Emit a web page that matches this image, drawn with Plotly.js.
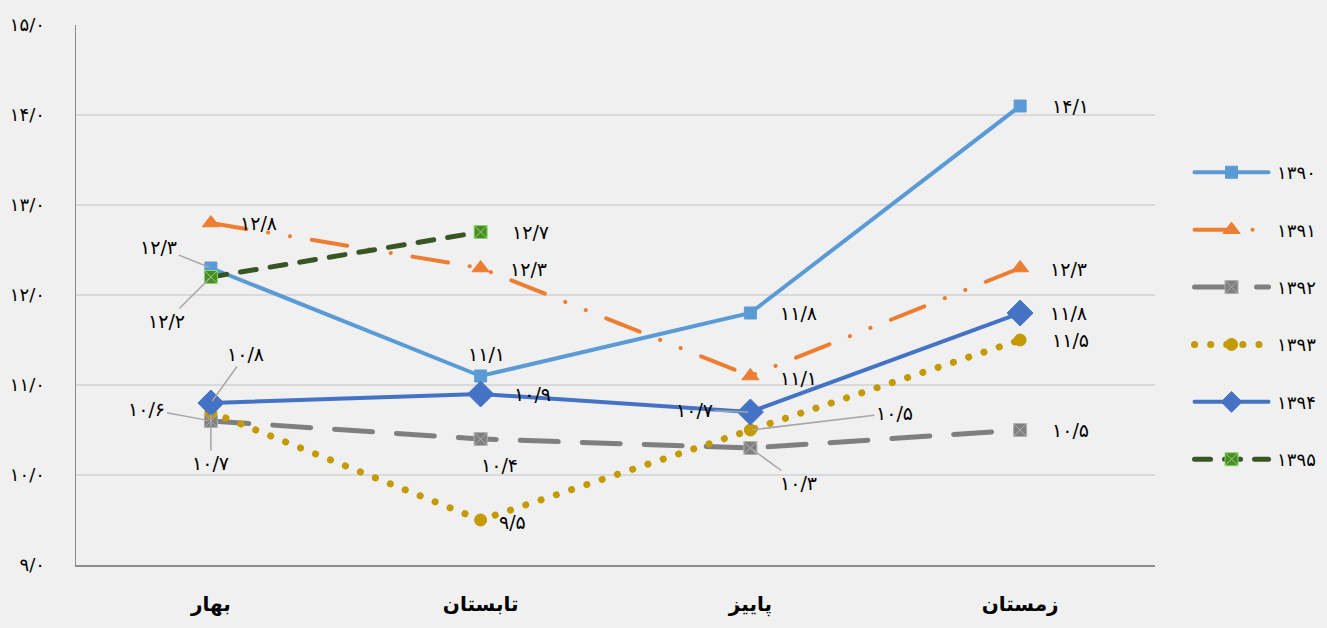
<!DOCTYPE html>
<html><head><meta charset="utf-8">
<script src="https://cdn.plot.ly/plotly-3.0.1.min.js"></script>
<style>
html,body{margin:0;padding:0;background:#f0f0f0;}
#chart{width:1327px;height:628px;}
.scatterlayer path.js-line{stroke-linecap:round;}
.legend path.js-line{stroke-linecap:round;}
</style></head>
<body><div id="chart"></div>
<script>
const categories = ['بهار','تابستان','پاییز','زمستان'];
const seriesNames = ['۱۳۹۰','۱۳۹۱','۱۳۹۲','۱۳۹۳','۱۳۹۴','۱۳۹۵'];
const s1390 = [12.3, 11.1, 11.8, 14.1];
const s1391 = [12.8, 12.3, 11.1, 12.3];
const s1392 = [10.6, 10.4, 10.3, 10.5];
const s1393 = [10.7, 9.5, 10.5, 11.5];
const s1394 = [10.8, 10.9, 10.7, 11.8];
const s1395 = [12.2, 12.7, null, null];
const yTicks = [9, 10, 11, 12, 13, 14, 15];

const faDigits = '۰۱۲۳۴۵۶۷۸۹';
function fa(v){ return v.toFixed(1).replace('.', '/').replace(/[0-9]/g, d => faDigits[+d]); }

const seriesValues = [s1390, s1391, s1392, s1393, s1394, s1395];
const styles = [
  {color:'#5b9bd5', width:4, dash:'solid', symbol:'square', msize:12, mcolor:'#5b9bd5', mline:'#5b9bd5'},
  {color:'#ed7d31', width:4, dash:'36px,22px,0.1px,22px,0.1px,22px', symbol:'triangle-up', msize:15, mcolor:'#ed7d31', mline:'#ed7d31'},
  {color:'#7f7f7f', width:5, dash:'38px,24px', symbol:'square-x', msize:13, mcolor:'#7f7f7f', mline:'#b0b0b0'},
  {color:'#c49a00', width:7, dash:'0.1px,16px', symbol:'circle', msize:12, mcolor:'#c49a00', mline:'#c49a00'},
  {color:'#4472c4', width:4, dash:'solid', symbol:'diamond', msize:20, mcolor:'#4472c4', mline:'#4472c4'},
  {color:'#375623', width:5, dash:'16px,14px', symbol:'square-x', msize:13, mcolor:'#4a8a2a', mline:'#8ad865'}
];
// label placement per series/category: [dx, dy(screen, down positive), leader]
const labelPlace = [
  [[-52,-21,1],[6,-22,0],[48,0,0],[50,0,0]],
  [[48,0,0],[48,1,0],[48,2,0],[48,1,0]],
  [[-64,-12,1],[19,26,0],[48,35,1],[50,0,0]],
  [[0,51,1],[32,2,0],[144,-17,1],[50,0,0]],
  [[35,-49,1],[52,0,0],[-56,-2,1],[48,0,0]],
  [[-44,44,1],[50,0,0],null,null]
];

const traces = seriesValues.map((vals,i)=>{
  const st = styles[i];
  return {
    type:'scatter', mode:'lines+markers', name:'\u2009' + seriesNames[i],
    x:categories, y:vals, legendgroup:'g'+i,
    line:{color:st.color, width:st.width, dash:st.dash},
    marker:{symbol:st.symbol, size:st.msize, color:st.mcolor, line:{color:st.mline, width:1}},
    hoverinfo:'skip', connectgaps:false
  };
});

const annotations = [];
seriesValues.forEach((vals,i)=>{
  vals.forEach((v,j)=>{
    if(v===null) return;
    const p = labelPlace[i][j];
    const base = {x:categories[j], y:v, xref:'x', yref:'y', text:fa(v),
      font:{family:'DejaVu Sans, sans-serif', size:19, color:'#000'}};
    if(p[2]){
      annotations.push(Object.assign(base, {showarrow:true, ax:p[0], ay:p[1], arrowhead:0,
        arrowcolor:'#a6a6a6', arrowwidth:1.5, standoff:2, startstandoff:0}));
    } else {
      annotations.push(Object.assign(base, {showarrow:false, xshift:p[0], yshift:-p[1]}));
    }
  });
});

const layout = {
  width:1327, height:628,
  paper_bgcolor:'#f0f0f0', plot_bgcolor:'#f0f0f0',
  margin:{l:76, r:172, t:25, b:63, autoexpand:false},
  showlegend:true,
  legend:{x:1.032, y:0.761, xanchor:'left', yanchor:'top', traceorder:'grouped', tracegroupgap:31,
    itemwidth:74, font:{family:'DejaVu Sans, sans-serif', size:18, color:'#000'}, bgcolor:'rgba(0,0,0,0)'},
  xaxis:{type:'category', range:[-0.5,3.5], showgrid:false, zeroline:false,
    showline:true, linecolor:'#8c8c8c', linewidth:1.5, ticks:'', ticklabelstandoff:20,
    tickfont:{family:'DejaVu Sans, sans-serif', size:20, color:'#000', weight:'bold'}, fixedrange:true},
  yaxis:{range:[9,15], tickvals:yTicks, ticktext:yTicks.map(fa), showgrid:true, gridcolor:'#d9d9d9', gridwidth:1.5,
    zeroline:false, showline:true, linecolor:'#8c8c8c', linewidth:1.5, ticks:'', ticklabelstandoff:26,
    tickfont:{family:'DejaVu Sans, sans-serif', size:18, color:'#000'}, fixedrange:true},
  annotations:annotations
};
Plotly.newPlot('chart', traces, layout, {displayModeBar:false, staticPlot:true});
</script></body></html>
